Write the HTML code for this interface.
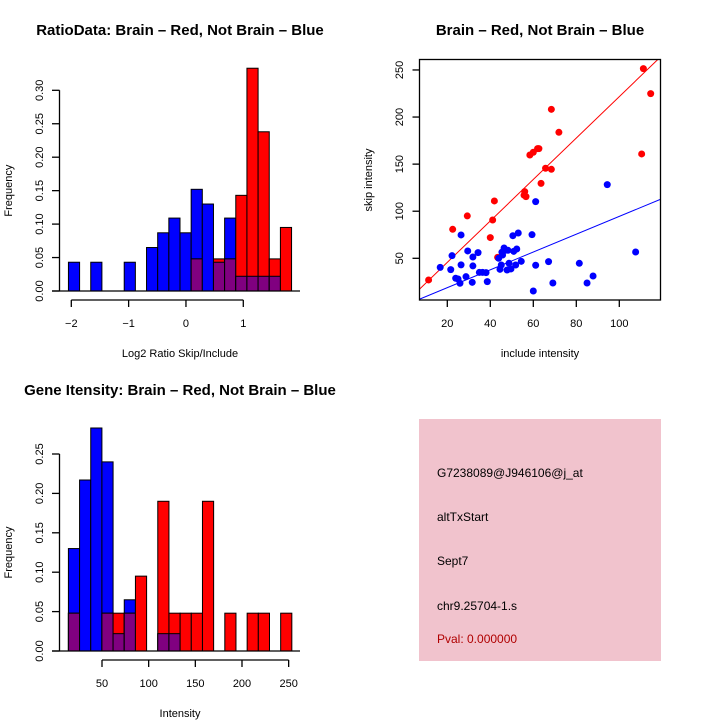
<!DOCTYPE html>
<html><head><meta charset="utf-8"><style>
body{margin:0;background:#fff}
svg{display:block;font-family:"Liberation Sans",sans-serif}
</style></head><body>
<svg id="c" width="720" height="720" viewBox="0 0 720 720">
<rect width="720" height="720" fill="#fff"/>
<g id="p1"></g>
<g id="p2"></g>
<g id="p3"></g>
<g>
<rect x="419" y="419" width="242" height="242" fill="#f1c3cd"/>
<text x="437" y="477" font-size="12" fill="#000">G7238089@J946106@j_at</text>
<text x="437" y="521" font-size="12" fill="#000">altTxStart</text>
<text x="437" y="565" font-size="12" fill="#000">Sept7</text>
<text x="437" y="610" font-size="12" fill="#000">chr9.25704-1.s</text>
<text x="437" y="643" font-size="12" fill="#b00000">Pval: 0.000000</text>
</g>
</svg>
<script>
// ---- Ratio histogram data ----
const ratioBinStart = -2.05;
const ratioBinWidth = 0.1946;
const ratioBlue = [0.043,0,0.043,0,0,0.043,0,0.065,0.087,0.109,0.087,0.152,0.130,0.043,0.109,0.022,0.022,0.022,0.022,0];
const ratioRed  = [0,0,0,0,0,0,0,0,0,0,0,0.048,0,0.048,0.048,0.143,0.333,0.238,0.048,0.095];
const ratioXTicks = [-2,-1,0,1];
const ratioYTicks = [0,0.05,0.10,0.15,0.20,0.25,0.30];
const ratioYTickLabels = ["0.00","0.05","0.10","0.15","0.20","0.25","0.30"];

// ---- Scatter data ----
const redInclude = [11.3,22.5,29.3,40,41.1,41.9,43.4,56,55.7,56.6,58.4,60,62,62.6,63.6,65.7,68.4,68.4,71.9,110.4,111.2,114.6];
const redSkip    = [27,80.8,95,72,90.7,110.9,51,120.8,117,115.5,159.7,162.6,166.5,166.5,129.6,145.6,144.5,208.2,183.8,160.8,251.4,224.9];
const blueInclude = [16.7,22.2,21.6,26.4,23.9,25,25.9,26.4,28.7,29.5,31.6,31.9,31.9,34.3,34.9,36.4,38,38.6,43.9,44.5,45.1,45.4,46.4,45.7,47.1,48.2,47.8,48.7,49.6,50.5,50.9,52.3,53,54.4,51.8,59.4,60,61.1,61.1,67.1,69.1,81.4,85,87.8,94.4,107.6];
const blueSkip    = [40.4,52.8,38,74.8,28.8,28,23.5,43,30.5,57.8,24.5,51.4,41.9,56,35,35,34.8,25.2,50,38.3,42.9,56.4,61,53.5,58.5,58.5,37.6,44.7,38.7,74,57.4,59.9,76.9,46.8,42.9,75.1,15.3,110.2,42.6,46.5,23.8,44.7,23.8,31.2,128.2,56.7];
const redFit = [1.7, 2.2];   // intercept, slope
const blueFit = [-0.1, 0.946];
const scatterXTicks = [20,40,60,80,100];
const scatterYTicks = [50,100,150,200,250];

// ---- Gene intensity histogram data ----
const intBinStart = 14;
const intBinWidth = 11.97;
const intBlue = [0.130,0.217,0.283,0.240,0.022,0.065,0,0,0.022,0.022,0,0,0,0,0,0,0,0,0,0];
const intRed  = [0.048,0,0,0.048,0.048,0.048,0.095,0,0.190,0.048,0.048,0.048,0.190,0,0.048,0,0.048,0.048,0,0.048];
const intXTicks = [50,100,150,200,250];
const intYTicks = [0,0.05,0.10,0.15,0.20,0.25];
const intYTickLabels = ["0.00","0.05","0.10","0.15","0.20","0.25"];

const NS="http://www.w3.org/2000/svg";
function mk(parent,tag,attrs,txt){const e=document.createElementNS(NS,tag);for(const k in attrs)e.setAttribute(k,attrs[k]);if(txt!==undefined)e.textContent=txt;parent.appendChild(e);return e;}

function hist(g,cfg){
  const {xs,ys,start,width,blue,red,xTicks,yTicks,yLabels,title,xlab,titleY,axisY,pre}=cfg;
  for(let i=0;i<blue.length;i++){
    const x0=xs(start+i*width), x1=xs(start+(i+1)*width);
    const b=blue[i], r=red[i];
    if(b>0){const e=mk(g,'rect',{x:x0,y:ys(b),width:x1-x0,height:ys(0)-ys(b),fill:'#0000ff',stroke:'#000','stroke-width':1});
      
      }
    if(r>0){const e=mk(g,'rect',{x:x0,y:ys(r),width:x1-x0,height:ys(0)-ys(r),fill:'#ff0000',stroke:'#000','stroke-width':1});
      
      }
    if(b>0&&r>0){const m=Math.min(b,r);const e=mk(g,'rect',{x:x0,y:ys(m),width:x1-x0,height:ys(0)-ys(m),fill:'#800080',stroke:'#000','stroke-width':1});
      
      }
  }
  const bl=mk(g,'line',{x1:52,x2:300,y1:ys(0),y2:ys(0),stroke:'#000','stroke-width':1.3});
  
  
  const ya=mk(g,'line',{x1:59.5,x2:59.5,y1:ys(yTicks[0]),y2:ys(yTicks[yTicks.length-1]),stroke:'#000','stroke-width':1.3});
  
  
  yTicks.forEach((t,i)=>{
    mk(g,'line',{x1:52,x2:59.5,y1:ys(t),y2:ys(t),stroke:'#000','stroke-width':1.3});
    const tx=mk(g,'text',{x:0,y:0,transform:`translate(43,${ys(t)}) rotate(-90)`,'text-anchor':'middle','font-size':11},yLabels[i]);
    
    
  });
  const xa=mk(g,'line',{x1:xs(xTicks[0]),x2:xs(xTicks[xTicks.length-1]),y1:axisY,y2:axisY,stroke:'#000','stroke-width':1.3});
  
  
  xTicks.forEach(t=>{
    mk(g,'line',{x1:xs(t),x2:xs(t),y1:axisY,y2:axisY+7,stroke:'#000','stroke-width':1.3});
    const tx=mk(g,'text',{x:xs(t),y:axisY+27,'text-anchor':'middle','font-size':11},String(t).replace('-','\u2212'));
    
    
  });
  const yl=mk(g,'text',{x:0,y:0,transform:`translate(12,${(ys(0)+ys(yTicks[yTicks.length-1]))/2}) rotate(-90)`,'text-anchor':'middle','font-size':11},'Frequency');
  
  
  const xl=mk(g,'text',{x:cfg.xlabX,y:cfg.xlabY,'text-anchor':'middle','font-size':11},xlab);
  
  
  const ti=mk(g,'text',{x:cfg.titleX,y:titleY,'text-anchor':'middle','font-size':15,'font-weight':'bold'},title);
  
  
}

{
  const xs=v=>71.3+(v+2)*57.33;
  const ys=v=>291-v*669;
  hist(document.getElementById('p1'),{xs,ys,start:ratioBinStart,width:ratioBinWidth,blue:ratioBlue,red:ratioRed,
    xTicks:ratioXTicks,yTicks:ratioYTicks,yLabels:ratioYTickLabels,title:'RatioData: Brain \u2013 Red, Not Brain \u2013 Blue',
    xlab:'Log2 Ratio Skip/Include',titleX:180,titleY:35,axisY:300,xlabX:180,xlabY:357,pre:'ratio'});
}
{
  const xs=v=>102+(v-50)*0.9333;
  const ys=v=>651-v*788;
  hist(document.getElementById('p3'),{xs,ys,start:intBinStart,width:intBinWidth,blue:intBlue,red:intRed,
    xTicks:intXTicks,yTicks:intYTicks,yLabels:intYTickLabels,title:'Gene Itensity: Brain \u2013 Red, Not Brain \u2013 Blue',
    xlab:'Intensity',titleX:180,titleY:395,axisY:660,xlabX:180,xlabY:717,pre:'intensity'});
}
{
  const g=document.getElementById('p2');
  const xs=v=>447.3+(v-20)*2.15;
  const ys=v=>258.3-(v-50)*0.9417;
  const L=419.5,R=660.5,T=59.5,B=300;
  const cp=mk(g,'clipPath',{id:'sc'});mk(cp,'rect',{x:L,y:T,width:R-L,height:B-T});
  const fits=[[redFit,'#ff0000','red-fit-line'],[blueFit,'#0000ff','blue-fit-line']];
  fits.forEach(([f,c,n])=>{
    const x0=0,x1=130;
    const e=mk(g,'line',{x1:xs(x0),y1:ys(f[0]+f[1]*x0),x2:xs(x1),y2:ys(f[0]+f[1]*x1),stroke:c,'stroke-width':1,'clip-path':'url(#sc)'});
    
    
  });
  redInclude.forEach((x,i)=>{
    const e=mk(g,'circle',{cx:xs(x),cy:ys(redSkip[i]),r:3.5,fill:'#ff0000'});
    
    
  });
  blueInclude.forEach((x,i)=>{
    const e=mk(g,'circle',{cx:xs(x),cy:ys(blueSkip[i]),r:3.5,fill:'#0000ff'});
    
    
  });
  const bx=mk(g,'rect',{x:L,y:T,width:R-L,height:B-T,fill:'none',stroke:'#000','stroke-width':1.3});
  
  
  scatterXTicks.forEach(t=>{
    mk(g,'line',{x1:xs(t),x2:xs(t),y1:B,y2:B+7,stroke:'#000','stroke-width':1.3});
    const tx=mk(g,'text',{x:xs(t),y:B+27,'text-anchor':'middle','font-size':11},String(t));
    
    
  });
  scatterYTicks.forEach(t=>{
    mk(g,'line',{x1:L-7,x2:L,y1:ys(t),y2:ys(t),stroke:'#000','stroke-width':1.3});
    const tx=mk(g,'text',{x:0,y:0,transform:`translate(403,${ys(t)}) rotate(-90)`,'text-anchor':'middle','font-size':11},String(t));
    
    
  });
  const xl=mk(g,'text',{x:540,y:357,'text-anchor':'middle','font-size':11},'include intensity');
  
  
  const yl=mk(g,'text',{x:0,y:0,transform:'translate(372,180) rotate(-90)','text-anchor':'middle','font-size':11},'skip intensity');
  
  
  const ti=mk(g,'text',{x:540,y:35,'text-anchor':'middle','font-size':15,'font-weight':'bold'},'Brain \u2013 Red, Not Brain \u2013 Blue');
  
  
}
</script>
</body></html>
